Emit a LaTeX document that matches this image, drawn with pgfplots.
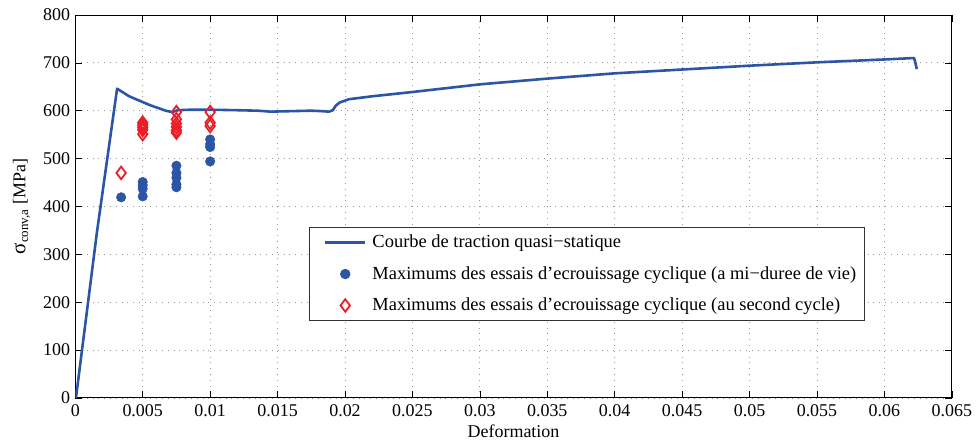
\documentclass[border=0pt]{standalone}
\usepackage{pgfplots}
\pgfplotsset{compat=1.18}
\usepackage{fontspec}
\setmainfont{Liberation Serif}
\definecolor{curveblue}{RGB}{45,85,165}
\definecolor{markred}{RGB}{235,30,38}
\newcommand{\chartfont}{\fontsize{18}{21}\selectfont}
\begin{document}
\chartfont
\begin{tikzpicture}
\begin{axis}[
    scale only axis,
    width=879pt, height=384pt,
    xmin=0, xmax=0.065,
    ymin=0, ymax=800,
    xtick={0,0.005,0.01,0.015,0.02,0.025,0.03,0.035,0.04,0.045,0.05,0.055,0.06,0.065},
    xticklabels={0,0.005,0.01,0.015,0.02,0.025,0.03,0.035,0.04,0.045,0.05,0.055,0.06,0.065},
    scaled x ticks=false,
    ytick={0,100,200,300,400,500,600,700,800},
    /pgf/number format/assume math mode=true,
    tick align=inside,
    major tick length=7pt,
    tick style={black, line width=0.6pt},
    axis line style={black, line width=0.8pt},
    grid=major,
    major grid style={gray!80, line width=0.7pt, dash pattern=on 0.8pt off 5pt},
    xlabel={Deformation},
    ylabel={{\fontsize{21}{21}\selectfont σ}\textsubscript{\fontsize{13}{13}\selectfont conv,a} [MPa]},
    label style={font=\chartfont},
    ticklabel style={font=\chartfont},
    xlabel style={yshift=5pt},
    ylabel style={yshift=1pt},
    xticklabel style={yshift=-1pt},
    yticklabel style={xshift=1pt},
    legend cell align=left,
    legend style={at={(0.2666,0.445)}, anchor=north west,
        draw=black!80, line width=0.8pt, row sep=12pt,
        inner xsep=6pt, inner ysep=5pt,
        font=\fontsize{18.5}{21}\selectfont,
        /tikz/every odd column/.append style={column sep=4pt}},
    legend image code/.code={
        \path[draw=none, fill=none] (0pt,0pt) rectangle (50pt,0.1pt);
        \draw[mark repeat=2, mark phase=2, #1]
            plot coordinates {(10pt,0pt) (30pt,0pt) (50pt,0pt)};
    },
]
\addplot[curveblue, line width=2.6pt, line join=round] coordinates {
(0.00005,0)(0.0016,345)(0.0031,646)(0.0040,630)(0.0055,612)(0.0067,600)(0.0072,597)
(0.0076,601)(0.0085,602)(0.01,602)(0.012,601)(0.0135,600)(0.0145,598)(0.016,599)
(0.0175,600)(0.0183,599)(0.0188,598)(0.0191,601)(0.0193,610)(0.0196,617)(0.0203,624)
(0.022,630)(0.025,639)(0.03,655)(0.035,667)(0.04,678)(0.045,686)(0.05,694)
(0.055,701)(0.06,707)(0.0622,710)(0.0623,700)(0.0624,687)
};
\addlegendentry{Courbe de traction quasi−statique}
\addplot[only marks, mark=*, mark size=4.8pt, mark options={fill=curveblue, draw=curveblue}] coordinates {
(0.0034,419)
(0.005,451)(0.005,444)(0.005,437)(0.005,421)
(0.0075,485)(0.0075,470)(0.0075,460)(0.0075,446)(0.0075,440)
(0.01,540)(0.01,530)(0.01,524)(0.01,494)
};
\addlegendentry{Maximums des essais d’ecrouissage cyclique (a mi−duree de vie)}
\addplot[only marks, mark=diamond, mark size=6.3pt, mark options={draw=markred, line width=1.8pt, fill=none}] coordinates {
(0.0034,470)
(0.005,575)(0.005,570)(0.005,565)(0.005,560)(0.005,551)
(0.0075,597)(0.0075,582)(0.0075,573)(0.0075,566)(0.0075,559)(0.0075,554)
(0.01,597)(0.01,575)(0.01,568)
};
\addlegendentry{Maximums des essais d’ecrouissage cyclique (au second cycle)}
\end{axis}
\path ([xshift=-75.5pt,yshift=-46pt]current axis.south west)
    rectangle ([xshift=23pt,yshift=15pt]current axis.north east);
\end{tikzpicture}
\end{document}
